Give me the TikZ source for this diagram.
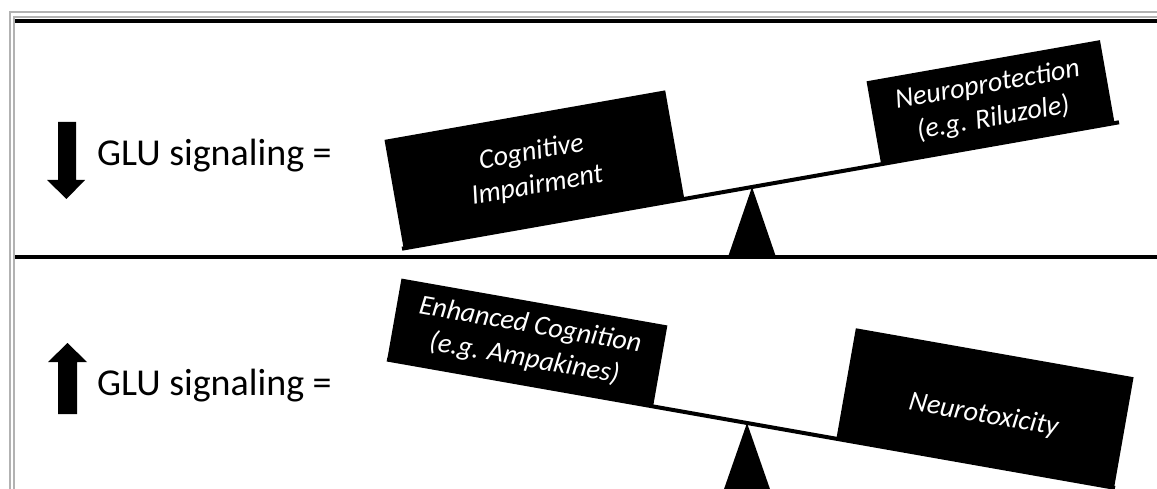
\documentclass[tikz,border=0pt]{standalone}
\usepackage{fontspec}
\setmainfont{Carlito}
\usetikzlibrary{calc}

\tikzset{
  weight/.style={fill=black, text=white, inner sep=0pt, align=center,
    font=\fontsize{28}{34}\selectfont\itshape},
  beam/.style={line width=4pt},
  glu/.style={anchor=base west, inner sep=0pt, font=\fontsize{38}{46}\selectfont}
}

\begin{document}
\begin{tikzpicture}[x=1pt,y=1pt]
\clip (0,0) rectangle (1157,488);
\fill[white] (0,0) rectangle (1157,488);
% frame
\draw[gray!60, line width=2pt] (9.5,-20) rectangle (1180,475.5);
\draw[gray!60, line width=2pt] (14,-20) rectangle (1180,470.5);
\draw[line width=3.5pt] (15,467) -- (1180,467);
\draw[line width=3.5pt] (15,231) -- (1180,231);

% top panel: less GLU
\fill (58,366) -- (76,366) -- (76,308) -- (85,308) -- (66.5,289) -- (47,308) -- (58,308) -- cycle;
\node[glu] (dlabel) at (97,322) {GLU signaling =};
\coordinate (tl) at (402,239.3);
\coordinate (tr) at (1119,365.7);
\coordinate (tp) at (752,301);
\fill (tp) -- (776,231) -- (728,231) -- cycle;
\draw[beam] (tl) -- (tr);
\node[weight, rotate=10, anchor=south west, minimum width=285pt, minimum height=110pt]
  (cog) at ($(tl)!0.002!(tr)$) {Cognitive\\Impairment};
\node[weight, rotate=10, anchor=south west, minimum width=237pt, minimum height=84pt]
  (prot) at ($(tl)!0.668!(tr)$) {Neuroprotection\\(e.g. Riluzole)};

% bottom panel: more GLU
\fill (58,74) -- (77,74) -- (77,126) -- (87,126) -- (67.5,145) -- (48,126) -- (58,126) -- cycle;
\node[glu] (ulabel) at (97,93) {GLU signaling =};
\coordinate (bl) at (387,128.5);
\coordinate (br) at (1115,0.1);
\coordinate (bp) at (747,65);
\fill (bp) -- (771,-4) -- (723,-4) -- cycle;
\draw[beam] (bl) -- (br);
\node[weight, rotate=-10, anchor=south west, minimum width=270pt, minimum height=82pt]
  (enh) at (bl) {Enhanced Cognition\\(e.g. Ampakines)};
\node[weight, rotate=-10, anchor=south west, minimum width=282pt, minimum height=112pt,
  text height=36pt, text depth=6pt]
  (tox) at ($(bl)!0.617!(br)$) {Neurotoxicity};
\end{tikzpicture}
\end{document}
